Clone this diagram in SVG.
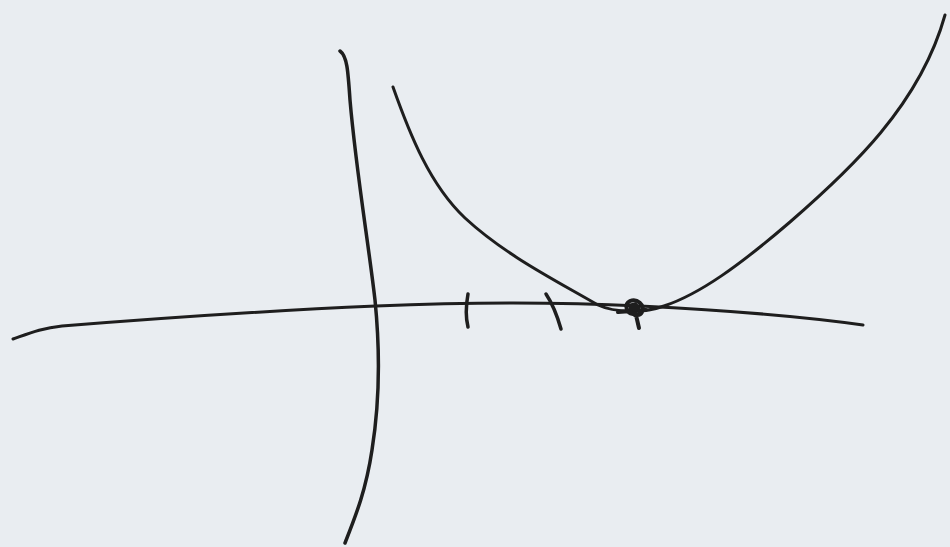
<svg xmlns="http://www.w3.org/2000/svg" width="950" height="547" viewBox="0 0 950 547">
<style>
.s{fill:none;stroke:#1e1e1e;stroke-linecap:round;stroke-linejoin:round}
</style>
<rect width="950" height="547" fill="#e9edf1"/>
<g id="x-axis"><path class="s" stroke-width="3" d="M13,339 C30,333 42,328 62,326 C150,319 260,311 376,306 C470,302 560,302 640,306 C720,310 800,316 863,325"/></g>
<g id="y-axis"><path class="s" stroke-width="3.5" d="M340,51 C347,56 348,70 350,100 C356,170 368,240 375,300 C380,350 380,400 372,450 C366,490 356,515 345,543"/></g>
<g id="parabola"><path class="s" stroke-width="3" d="M393,87 C410,135 430,185 465,218 C505,255 555,280 598,305 C615,313 645,313 664,306 C700,294 740,265 790,222 C850,170 920,105 945,15"/></g>
<g id="ticks">
<path class="s" stroke-width="3.5" d="M468,294 C466,305 465,315 468,327"/>
<path class="s" stroke-width="3.5" d="M546,294 C552,303 557,315 561,329"/>
<path class="s" stroke-width="4" d="M633,306 C636,313 637,320 639,328 M633,314 C626,313 624,304 630,301 C637,298 645,305 642,312 C640,316 635,316 632,313 M618,312 L646,310"/>
<path d="M628,304 L636,302 L641,308 L636,312 L629,310 Z" fill="#1e1e1e"/>
</g>
</svg>
